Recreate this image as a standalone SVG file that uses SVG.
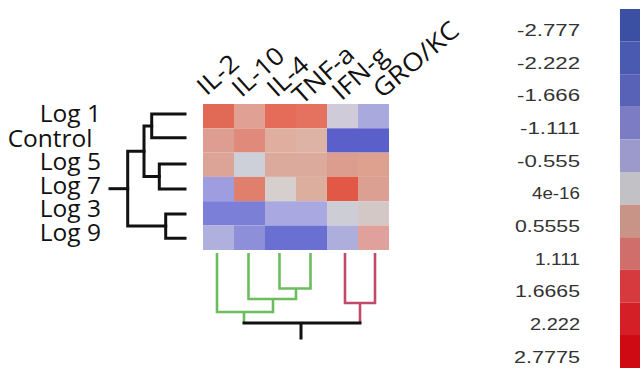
<svg xmlns="http://www.w3.org/2000/svg" width="641" height="375" viewBox="0 0 641 375">
<style>
.lbl{font-family:"Open Sans","DejaVu Sans",sans-serif;font-size:24.5px;fill:#111}
.col{font-family:"Open Sans","DejaVu Sans",sans-serif;font-size:25px;fill:#111}
.leg{font-family:"Liberation Sans",Arial,sans-serif;font-size:17px;fill:#333}
.blk{fill:none;stroke:#111;stroke-width:3;stroke-linecap:square}
.grn{fill:none;stroke:#6cbd5e;stroke-width:2.6;stroke-linecap:butt}
.red{fill:none;stroke:#c04a68;stroke-width:2.6;stroke-linecap:butt}
</style>
<rect width="641" height="375" fill="#fff"/>
<g id="rows">
<g id="row-log1">
<text class="lbl" x="101" y="122" text-anchor="end">Log 1</text>
<rect x="203" y="104" width="31" height="24.3" fill="#e06a55"/><rect x="234" y="104" width="31" height="24.3" fill="#e0a093"/><rect x="265" y="104" width="31" height="24.3" fill="#e46c58"/><rect x="296" y="104" width="31" height="24.3" fill="#e4725e"/><rect x="327" y="104" width="31" height="24.3" fill="#cfcbd8"/><rect x="358" y="104" width="31" height="24.3" fill="#a9a9dd"/>
</g>
<g id="row-control">
<text class="lbl" x="92.5" y="146.5" text-anchor="end">Control</text>
<rect x="203" y="128.3" width="31" height="24.3" fill="#dd9d90"/><rect x="234" y="128.3" width="31" height="24.3" fill="#e08a7c"/><rect x="265" y="128.3" width="31" height="24.3" fill="#dfae9f"/><rect x="296" y="128.3" width="31" height="24.3" fill="#dcb3a5"/><rect x="327" y="128.3" width="31" height="24.3" fill="#5b5fc9"/><rect x="358" y="128.3" width="31" height="24.3" fill="#5b5fc9"/>
</g>
<g id="row-log5">
<text class="lbl" x="101" y="170" text-anchor="end">Log 5</text>
<rect x="203" y="152.6" width="31" height="24.3" fill="#dba497"/><rect x="234" y="152.6" width="31" height="24.3" fill="#cdd0d8"/><rect x="265" y="152.6" width="31" height="24.3" fill="#dcaa9c"/><rect x="296" y="152.6" width="31" height="24.3" fill="#dcaa9c"/><rect x="327" y="152.6" width="31" height="24.3" fill="#dc9c8e"/><rect x="358" y="152.6" width="31" height="24.3" fill="#dea08f"/>
</g>
<g id="row-log7">
<text class="lbl" x="101" y="193.5" text-anchor="end">Log 7</text>
<rect x="203" y="176.9" width="31" height="24.3" fill="#9d9ddf"/><rect x="234" y="176.9" width="31" height="24.3" fill="#e0806c"/><rect x="265" y="176.9" width="31" height="24.3" fill="#d5cfcd"/><rect x="296" y="176.9" width="31" height="24.3" fill="#dcae9e"/><rect x="327" y="176.9" width="31" height="24.3" fill="#e25846"/><rect x="358" y="176.9" width="31" height="24.3" fill="#dba092"/>
</g>
<g id="row-log3">
<text class="lbl" x="101" y="217" text-anchor="end">Log 3</text>
<rect x="203" y="201.2" width="31" height="24.3" fill="#7b7fd8"/><rect x="234" y="201.2" width="31" height="24.3" fill="#7b80d6"/><rect x="265" y="201.2" width="31" height="24.3" fill="#a9a8e1"/><rect x="296" y="201.2" width="31" height="24.3" fill="#a9a8e1"/><rect x="327" y="201.2" width="31" height="24.3" fill="#cdcdd6"/><rect x="358" y="201.2" width="31" height="24.3" fill="#d4c8c6"/>
</g>
<g id="row-log9">
<text class="lbl" x="101" y="240.5" text-anchor="end">Log 9</text>
<rect x="203" y="225.5" width="31" height="24.5" fill="#b0b0de"/><rect x="234" y="225.5" width="31" height="24.5" fill="#8d90d8"/><rect x="265" y="225.5" width="31" height="24.5" fill="#6a6fd2"/><rect x="296" y="225.5" width="31" height="24.5" fill="#6a6fd2"/><rect x="327" y="225.5" width="31" height="24.5" fill="#aeaedd"/><rect x="358" y="225.5" width="31" height="24.5" fill="#e0a09c"/>
</g>
</g>
<g id="columns">
<g id="col-il2"><text class="col" transform="translate(206.6,96.5) rotate(-42)" textLength="46" lengthAdjust="spacingAndGlyphs">IL-2</text></g>
<g id="col-il10"><text class="col" transform="translate(241.6,98.2) rotate(-42)" textLength="60" lengthAdjust="spacingAndGlyphs">IL-10</text></g>
<g id="col-il4"><text class="col" transform="translate(276.6,98.2) rotate(-42)" textLength="46" lengthAdjust="spacingAndGlyphs">IL-4</text></g>
<g id="col-tnfa"><text class="col" transform="translate(302,105.5) rotate(-42)" textLength="73" lengthAdjust="spacingAndGlyphs">TNF-a</text></g>
<g id="col-ifng"><text class="col" transform="translate(341.6,101.5) rotate(-42)" textLength="65" lengthAdjust="spacingAndGlyphs">IFN-g</text></g>
<g id="col-grokc"><text class="col" transform="translate(382,99.3) rotate(-40)" textLength="103" lengthAdjust="spacingAndGlyphs">GRO/KC</text></g>
</g>
<g id="connectors">
<path class="blk" d="M185,114 H151.7 V137.7 H185"/>
<path class="blk" d="M185,164 H159.3 V189 H185"/>
<path class="blk" d="M185,214 H165.7 V238.3 H185"/>
<path class="blk" d="M151.7,126 H144 V176.5 H159.3"/>
<path class="blk" d="M144,151.3 H127.7 V226 H165.7"/>
<path class="blk" d="M110,188.7 H127.7"/>
<path class="grn" d="M279.5,253 V288.5 H310.5 V253"/>
<path class="grn" d="M248.5,253 V299 H296 V288.5"/>
<path class="grn" d="M217,253 V312 H273 V299"/>
<path class="grn" d="M244,312 V323"/>
<path class="red" d="M345,253 V303 H375 V253"/>
<path class="red" d="M360,303 V323"/>
<path class="blk" d="M244,323 H360 M301,323 V338" stroke-linecap="butt"/>
</g>
<g id="legend">
<rect x="620" y="9" width="20" height="32.6" fill="#3b4fa3"/>
<rect x="620" y="41.6" width="20" height="32.6" fill="#4a5ab0"/>
<rect x="620" y="74.2" width="20" height="32.6" fill="#5863b8"/>
<rect x="620" y="106.8" width="20" height="32.6" fill="#7c7cc4"/>
<rect x="620" y="139.4" width="20" height="32.6" fill="#9c9acd"/>
<rect x="620" y="172" width="20" height="32.6" fill="#c2c2c6"/>
<rect x="620" y="204.6" width="20" height="32.6" fill="#c89487"/>
<rect x="620" y="237.2" width="20" height="32.6" fill="#d06e6c"/>
<rect x="620" y="269.8" width="20" height="32.6" fill="#d6393e"/>
<rect x="620" y="302.4" width="20" height="32.6" fill="#d41f27"/>
<rect x="620" y="335" width="20" height="33" fill="#cf0a13"/>
<g text-anchor="end">
<text class="leg" x="580" y="36" textLength="63" lengthAdjust="spacingAndGlyphs">-2.777</text>
<text class="leg" x="580" y="68.7" textLength="63" lengthAdjust="spacingAndGlyphs">-2.222</text>
<text class="leg" x="580" y="101.3" textLength="63" lengthAdjust="spacingAndGlyphs">-1.666</text>
<text class="leg" x="580" y="134" textLength="60" lengthAdjust="spacingAndGlyphs">-1.111</text>
<text class="leg" x="580" y="166.7" textLength="63" lengthAdjust="spacingAndGlyphs">-0.555</text>
<text class="leg" x="580" y="199.3" textLength="48" lengthAdjust="spacingAndGlyphs">4e-16</text>
<text class="leg" x="580" y="232" textLength="65" lengthAdjust="spacingAndGlyphs">0.5555</text>
<text class="leg" x="580" y="264.7" textLength="45" lengthAdjust="spacingAndGlyphs">1.111</text>
<text class="leg" x="580" y="297.3" textLength="65" lengthAdjust="spacingAndGlyphs">1.6665</text>
<text class="leg" x="580" y="330" textLength="50" lengthAdjust="spacingAndGlyphs">2.222</text>
<text class="leg" x="580" y="362.7" textLength="66" lengthAdjust="spacingAndGlyphs">2.7775</text>
</g>
</g>
</svg>
